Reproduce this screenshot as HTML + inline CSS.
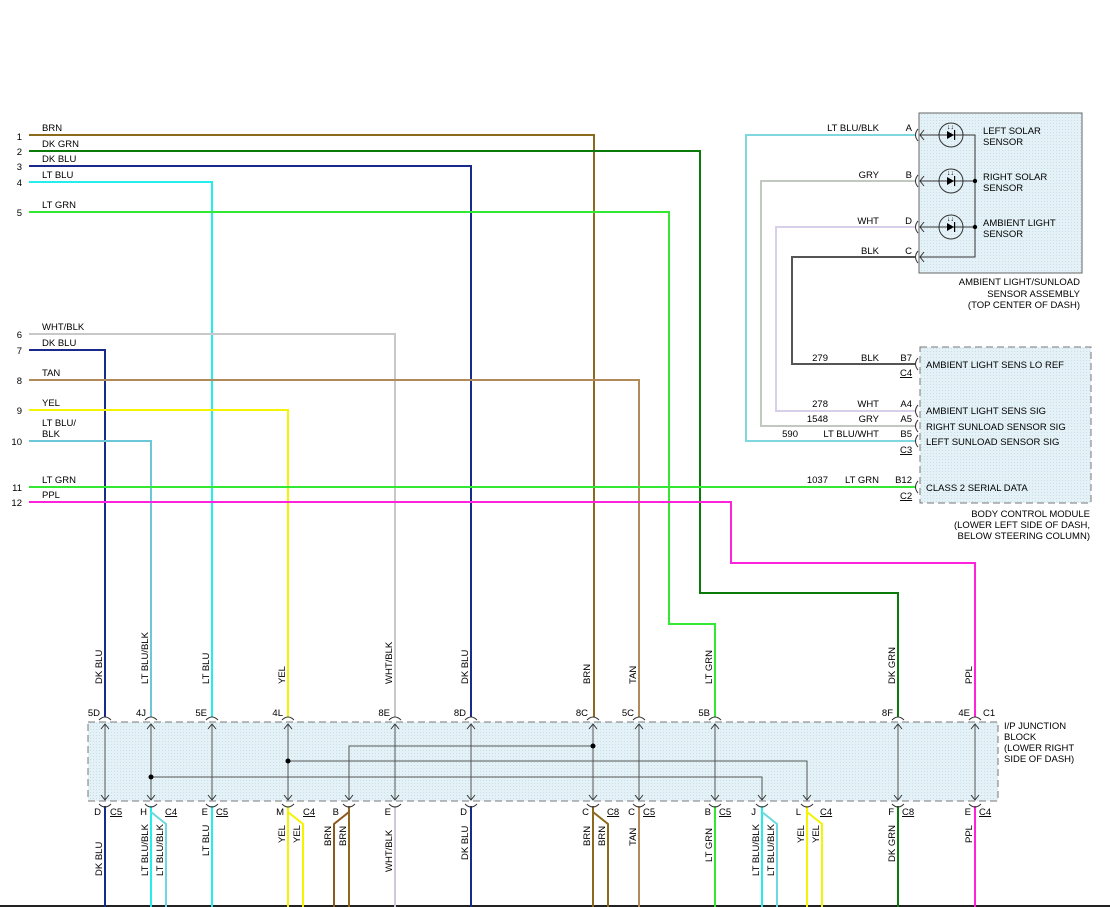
<!DOCTYPE html>
<html><head><meta charset="utf-8"><style>
html,body{margin:0;padding:0;background:#fff;}
svg{display:block;font-family:"Liberation Sans",Arial,sans-serif;font-size:9.5px;}
</style></head><body>
<svg width="1110" height="907" viewBox="0 0 1110 907" xmlns="http://www.w3.org/2000/svg">
<defs>
<pattern id="dots" width="3" height="3" patternUnits="userSpaceOnUse"><rect width="3" height="3" fill="#e4f2f8"/><rect width="1" height="1" fill="#c8dfe8"/></pattern>
</defs>
<rect x="0" y="0" width="1110" height="907" fill="#fff"/>
<line x1="0" y1="906" x2="1110" y2="906" stroke="#222" stroke-width="2"/>

<!-- boxes -->
<rect x="88" y="722" width="910" height="79" fill="url(#dots)" stroke="#777" stroke-dasharray="7,4"/>
<rect x="919" y="113" width="163" height="160" fill="url(#dots)" stroke="#666"/>
<rect x="920" y="347" width="171" height="156" fill="url(#dots)" stroke="#777" stroke-dasharray="7,4"/>

<g fill="none" stroke-width="2">
<polyline points="29,135 594,135 594,717" stroke="#8b6a1e"/>
<polyline points="29,151 700,151 700,593 898,593 898,717" stroke="#0a7a0a"/>
<polyline points="29,166 471,166 471,717" stroke="#1a2a8a"/>
<polyline points="29,182 212,182 212,717" stroke="#22eeee"/>
<polyline points="29,212 669,212 669,624 715,624 715,717" stroke="#33e833"/>
<polyline points="29,334 395,334 395,717" stroke="#c8c8c8"/>
<polyline points="29,350 105,350 105,717" stroke="#1a2a8a"/>
<polyline points="29,380 639,380 639,717" stroke="#b08a58"/>
<polyline points="29,410 288,410 288,717" stroke="#f4f400"/>
<polyline points="29,441 151,441 151,717" stroke="#6cc8d8"/>
<polyline points="29,487 915,487" stroke="#33e833"/>
<polyline points="29,502 731,502 731,563 975,563 975,717" stroke="#ff22dd"/>
<!-- sensor wires -->
<polyline points="915,135 746,135 746,441 915,441" stroke="#7fd8e0"/>
<polyline points="915,181 761,181 761,426 915,426" stroke="#c0c8c0"/>
<polyline points="915,227 776,227 776,411 915,411" stroke="#d8d0e8"/>
<polyline points="915,257 792,257 792,364 915,364" stroke="#555"/>
<!-- bottom wires -->
<line x1="105" y1="806" x2="105" y2="907" stroke="#1a2a8a"/>
<line x1="151" y1="806" x2="151" y2="907" stroke="#22eeee"/>
<polyline points="151,812 166,824 166,907" stroke="#6cd8e0"/>
<line x1="212" y1="806" x2="212" y2="907" stroke="#22eeee"/>
<line x1="288" y1="806" x2="288" y2="907" stroke="#f4f400"/>
<polyline points="288,812 303,824 303,907" stroke="#f4f400"/>
<line x1="349" y1="806" x2="349" y2="907" stroke="#8b6a1e"/>
<polyline points="349,812 334,824 334,907" stroke="#8b5a1e"/>
<line x1="395" y1="806" x2="395" y2="907" stroke="#d0c8d8"/>
<line x1="471" y1="806" x2="471" y2="907" stroke="#1a2a8a"/>
<line x1="593" y1="806" x2="593" y2="907" stroke="#8b6a1e"/>
<polyline points="593,812 608,824 608,907" stroke="#8b6a1e"/>
<line x1="639" y1="806" x2="639" y2="907" stroke="#b08a58"/>
<line x1="715" y1="806" x2="715" y2="907" stroke="#33e833"/>
<line x1="762" y1="806" x2="762" y2="907" stroke="#22eeee"/>
<polyline points="762,812 777,824 777,907" stroke="#6cd8e0"/>
<line x1="807" y1="806" x2="807" y2="907" stroke="#f4f400"/>
<polyline points="807,812 822,824 822,907" stroke="#f4f400"/>
<line x1="898" y1="806" x2="898" y2="907" stroke="#0a7a0a"/>
<line x1="975" y1="806" x2="975" y2="907" stroke="#ff22dd"/>
</g>

<!-- junction internals -->
<g stroke="#555" stroke-width="1" fill="none">
<line x1="105" y1="724" x2="105" y2="800"/><line x1="151" y1="724" x2="151" y2="800"/>
<line x1="212" y1="724" x2="212" y2="800"/><line x1="288" y1="724" x2="288" y2="800"/>
<line x1="395" y1="724" x2="395" y2="800"/><line x1="471" y1="724" x2="471" y2="800"/>
<line x1="593" y1="724" x2="593" y2="800"/><line x1="639" y1="724" x2="639" y2="800"/>
<line x1="715" y1="724" x2="715" y2="800"/><line x1="898" y1="724" x2="898" y2="800"/>
<line x1="975" y1="724" x2="975" y2="800"/>
<polyline points="593,746 349,746 349,800"/>
<polyline points="288,761 807,761 807,800"/>
<polyline points="151,777 762,777 762,800"/>
</g>
<g fill="#000">
<circle cx="593" cy="746" r="2.5"/><circle cx="288" cy="761" r="2.5"/><circle cx="151" cy="777" r="2.5"/>
</g>
<g stroke="#333" stroke-width="1" fill="none">
<path d="M101,729 l4,-5 l4,5 M147,729 l4,-5 l4,5 M208,729 l4,-5 l4,5 M284,729 l4,-5 l4,5 M391,729 l4,-5 l4,5 M467,729 l4,-5 l4,5 M589,729 l4,-5 l4,5 M635,729 l4,-5 l4,5 M711,729 l4,-5 l4,5 M894,729 l4,-5 l4,5 M971,729 l4,-5 l4,5"/>
<path d="M101,795 l4,5 l4,-5 M147,795 l4,5 l4,-5 M208,795 l4,5 l4,-5 M284,795 l4,5 l4,-5 M345,795 l4,5 l4,-5 M391,795 l4,5 l4,-5 M467,795 l4,5 l4,-5 M589,795 l4,5 l4,-5 M635,795 l4,5 l4,-5 M711,795 l4,5 l4,-5 M758,795 l4,5 l4,-5 M803,795 l4,5 l4,-5 M894,795 l4,5 l4,-5 M971,795 l4,5 l4,-5"/>
<path d="M99,720 q6,-6 12,0 M145,720 q6,-6 12,0 M206,720 q6,-6 12,0 M282,720 q6,-6 12,0 M389,720 q6,-6 12,0 M465,720 q6,-6 12,0 M587,720 q6,-6 12,0 M633,720 q6,-6 12,0 M709,720 q6,-6 12,0 M892,720 q6,-6 12,0 M969,720 q6,-6 12,0"/>
<path d="M99,804 q6,6 12,0 M145,804 q6,6 12,0 M206,804 q6,6 12,0 M282,804 q6,6 12,0 M343,804 q6,6 12,0 M389,804 q6,6 12,0 M465,804 q6,6 12,0 M587,804 q6,6 12,0 M633,804 q6,6 12,0 M709,804 q6,6 12,0 M756,804 q6,6 12,0 M801,804 q6,6 12,0 M892,804 q6,6 12,0 M969,804 q6,6 12,0"/>
<!-- sensor connectors -->
<path d="M924,130 l-4,5 l4,5 M924,176 l-4,5 l4,5 M924,222 l-4,5 l4,5 M924,252 l-4,5 l4,5 M918,129 q-5,6 0,12 M918,175 q-5,6 0,12 M918,221 q-5,6 0,12 M918,251 q-5,6 0,12"/>
<path d="M918,358 q-5,6 0,12 M918,405 q-5,6 0,12 M918,420 q-5,6 0,12 M918,435 q-5,6 0,12 M918,481 q-5,6 0,12"/>
<polyline points="920,135 975,135 975,257 920,257"/>
<line x1="920" y1="181" x2="975" y2="181"/><line x1="920" y1="227" x2="975" y2="227"/>
<circle cx="951" cy="135" r="12"/><circle cx="951" cy="181" r="12"/><circle cx="951" cy="227" r="12"/>
</g>
<g fill="#000">
<path d="M947,131 l7,4 l-7,4z M947,177 l7,4 l-7,4z M947,223 l7,4 l-7,4z"/>
<rect x="954" y="130" width="1.2" height="10"/><rect x="954" y="176" width="1.2" height="10"/><rect x="954" y="222" width="1.2" height="10"/>
<circle cx="975" cy="181" r="2.2"/><circle cx="975" cy="227" r="2.2"/>
<text x="947" y="129" font-size="7">↓↓</text><text x="947" y="175" font-size="7">↓↓</text><text x="947" y="221" font-size="7">↓↓</text>
</g>

<g fill="#000">
<!-- left numbers & labels -->
<g text-anchor="end">
<text x="22" y="140">1</text><text x="22" y="155">2</text><text x="22" y="170">3</text><text x="22" y="186">4</text><text x="22" y="216">5</text>
<text x="22" y="338">6</text><text x="22" y="354">7</text><text x="22" y="384">8</text><text x="22" y="414">9</text><text x="22" y="445">10</text>
<text x="22" y="491">11</text><text x="22" y="506">12</text>
</g>
<text x="42" y="131">BRN</text><text x="42" y="147">DK GRN</text><text x="42" y="162">DK BLU</text><text x="42" y="178">LT BLU</text><text x="42" y="208">LT GRN</text>
<text x="42" y="330">WHT/BLK</text><text x="42" y="346">DK BLU</text><text x="42" y="376">TAN</text><text x="42" y="406">YEL</text>
<text x="42" y="426">LT BLU/</text><text x="42" y="437">BLK</text>
<text x="42" y="483">LT GRN</text><text x="42" y="498">PPL</text>

<!-- sensor -->
<g text-anchor="end">
<text x="879" y="131">LT BLU/BLK</text><text x="879" y="178">GRY</text><text x="879" y="224">WHT</text><text x="879" y="254">BLK</text>
<text x="912" y="131">A</text><text x="912" y="178">B</text><text x="912" y="224">D</text><text x="912" y="254">C</text>
<text x="1080" y="285">AMBIENT LIGHT/SUNLOAD</text><text x="1080" y="297">SENSOR ASSEMBLY</text><text x="1080" y="308">(TOP CENTER OF DASH)</text>
</g>
<text x="983" y="134">LEFT SOLAR</text><text x="983" y="145">SENSOR</text>
<text x="983" y="180">RIGHT SOLAR</text><text x="983" y="191">SENSOR</text>
<text x="983" y="226">AMBIENT LIGHT</text><text x="983" y="237">SENSOR</text>

<!-- BCM -->
<g text-anchor="end">
<text x="828" y="361">279</text><text x="879" y="361">BLK</text><text x="912" y="361">B7</text>
<text x="828" y="407">278</text><text x="879" y="407">WHT</text><text x="912" y="407">A4</text>
<text x="828" y="422">1548</text><text x="879" y="422">GRY</text><text x="912" y="422">A5</text>
<text x="798" y="437">590</text><text x="879" y="437">LT BLU/WHT</text><text x="912" y="437">B5</text>
<text x="828" y="483">1037</text><text x="879" y="483">LT GRN</text><text x="912" y="483">B12</text>
<text x="1090" y="517">BODY CONTROL MODULE</text><text x="1090" y="528">(LOWER LEFT SIDE OF DASH,</text><text x="1090" y="539">BELOW STEERING COLUMN)</text>
</g>
<g text-decoration="underline">
<text x="900" y="376">C4</text><text x="900" y="453">C3</text><text x="900" y="499">C2</text>
</g>
<text x="926" y="368">AMBIENT LIGHT SENS LO REF</text>
<text x="926" y="414">AMBIENT LIGHT SENS SIG</text>
<text x="926" y="430">RIGHT SUNLOAD SENSOR SIG</text>
<text x="926" y="445">LEFT SUNLOAD SENSOR SIG</text>
<text x="926" y="491">CLASS 2 SERIAL DATA</text>

<!-- junction labels -->
<text x="1004" y="729">I/P JUNCTION</text><text x="1004" y="740">BLOCK</text><text x="1004" y="751">(LOWER RIGHT</text><text x="1004" y="762">SIDE OF DASH)</text>
<g text-anchor="end">
<text x="100" y="716">5D</text><text x="146" y="716">4J</text><text x="207" y="716">5E</text><text x="283" y="716">4L</text><text x="390" y="716">8E</text><text x="466" y="716">8D</text>
<text x="588" y="716">8C</text><text x="634" y="716">5C</text><text x="710" y="716">5B</text><text x="893" y="716">8F</text><text x="970" y="716">4E</text>
<text x="101" y="815">D</text><text x="147" y="815">H</text><text x="208" y="815">E</text><text x="284" y="815">M</text><text x="339" y="815">B</text><text x="391" y="815">E</text><text x="467" y="815">D</text>
<text x="589" y="815">C</text><text x="635" y="815">C</text><text x="711" y="815">B</text><text x="756" y="815">J</text><text x="801" y="815">L</text><text x="894" y="815">F</text><text x="971" y="815">E</text>
</g>
<text x="983" y="716">C1</text>
<g text-decoration="underline">
<text x="110" y="815">C5</text><text x="165" y="815">C4</text><text x="216" y="815">C5</text><text x="303" y="815">C4</text>
<text x="607" y="815">C8</text><text x="643" y="815">C5</text><text x="719" y="815">C5</text><text x="820" y="815">C4</text>
<text x="902" y="815">C8</text><text x="979" y="815">C4</text>
</g>
<!-- rotated top labels -->
<g>
<text transform="translate(102,684) rotate(-90)">DK BLU</text>
<text transform="translate(148,684) rotate(-90)">LT BLU/BLK</text>
<text transform="translate(209,684) rotate(-90)">LT BLU</text>
<text transform="translate(285,684) rotate(-90)">YEL</text>
<text transform="translate(392,684) rotate(-90)">WHT/BLK</text>
<text transform="translate(468,684) rotate(-90)">DK BLU</text>
<text transform="translate(590,684) rotate(-90)">BRN</text>
<text transform="translate(636,684) rotate(-90)">TAN</text>
<text transform="translate(712,684) rotate(-90)">LT GRN</text>
<text transform="translate(895,684) rotate(-90)">DK GRN</text>
<text transform="translate(972,684) rotate(-90)">PPL</text>
<!-- rotated bottom labels -->
<text transform="translate(102,876) rotate(-90)">DK BLU</text>
<text transform="translate(148,876) rotate(-90)">LT BLU/BLK</text>
<text transform="translate(163,876) rotate(-90)">LT BLU/BLK</text>
<text transform="translate(209,856) rotate(-90)">LT BLU</text>
<text transform="translate(285,843) rotate(-90)">YEL</text>
<text transform="translate(300,843) rotate(-90)">YEL</text>
<text transform="translate(331,846) rotate(-90)">BRN</text>
<text transform="translate(346,846) rotate(-90)">BRN</text>
<text transform="translate(392,872) rotate(-90)">WHT/BLK</text>
<text transform="translate(468,860) rotate(-90)">DK BLU</text>
<text transform="translate(590,846) rotate(-90)">BRN</text>
<text transform="translate(605,846) rotate(-90)">BRN</text>
<text transform="translate(636,846) rotate(-90)">TAN</text>
<text transform="translate(712,862) rotate(-90)">LT GRN</text>
<text transform="translate(759,876) rotate(-90)">LT BLU/BLK</text>
<text transform="translate(774,876) rotate(-90)">LT BLU/BLK</text>
<text transform="translate(804,843) rotate(-90)">YEL</text>
<text transform="translate(819,843) rotate(-90)">YEL</text>
<text transform="translate(895,862) rotate(-90)">DK GRN</text>
<text transform="translate(972,843) rotate(-90)">PPL</text>
</g>
</g>
</svg>
</body></html>
